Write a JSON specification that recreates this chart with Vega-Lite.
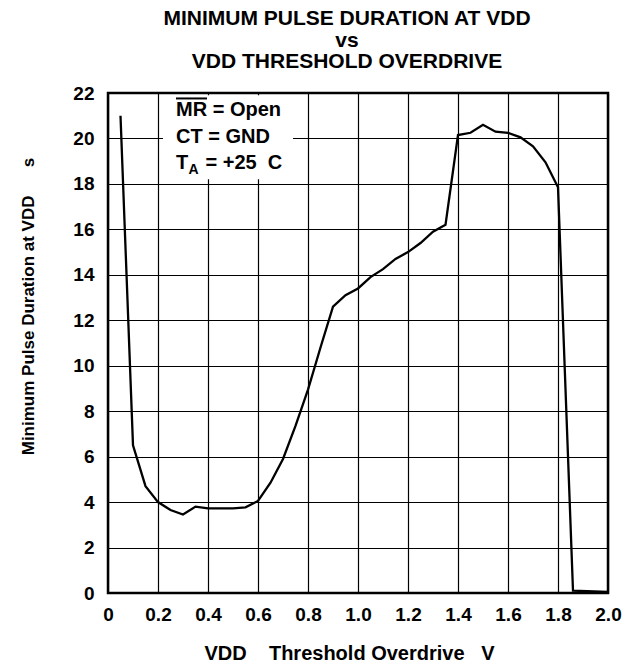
{
  "$schema": "https://vega.github.io/schema/vega-lite/v6.json",
  "width": 500,
  "height": 500,
  "autosize": {"type": "none"},
  "padding": {"left": 108, "top": 93, "right": 31, "bottom": 78},
  "background": "white",
  "title": {
    "text": ["MINIMUM PULSE DURATION AT VDD", "vs", "VDD THRESHOLD OVERDRIVE"],
    "anchor": "middle",
    "font": "Liberation Sans",
    "fontSize": 21,
    "fontWeight": "bold",
    "lineHeight": 21.5,
    "color": "black",
    "offset": 12,
    "dx": -11
  },
  "config": {
    "view": {"stroke": "black", "strokeWidth": 2.5},
    "axis": {
      "grid": true,
      "gridColor": "black",
      "gridOpacity": 1,
      "gridWidth": 1.2,
      "ticks": false,
      "tickSize": 0,
      "domain": false,
      "labelFont": "Liberation Sans",
      "labelFontSize": 19,
      "labelFontWeight": "bold",
      "labelColor": "black",
      "labelFlush": false,
      "labelOverlap": false,
      "labelBound": false,
      "titleFont": "Liberation Sans",
      "titleFontWeight": "bold",
      "titleColor": "black"
    }
  },
  "datasets": {
    "curve": [
      {"x": 0.05, "y": 21.0},
      {"x": 0.1, "y": 6.5},
      {"x": 0.15, "y": 4.7},
      {"x": 0.2, "y": 4.0},
      {"x": 0.25, "y": 3.65},
      {"x": 0.3, "y": 3.45},
      {"x": 0.35, "y": 3.8},
      {"x": 0.4, "y": 3.72},
      {"x": 0.45, "y": 3.72},
      {"x": 0.5, "y": 3.72},
      {"x": 0.55, "y": 3.77},
      {"x": 0.6, "y": 4.05},
      {"x": 0.65, "y": 4.85},
      {"x": 0.7, "y": 5.9},
      {"x": 0.75, "y": 7.35},
      {"x": 0.8, "y": 8.95},
      {"x": 0.85, "y": 10.8},
      {"x": 0.9, "y": 12.6},
      {"x": 0.95, "y": 13.1},
      {"x": 1.0, "y": 13.4},
      {"x": 1.05, "y": 13.9},
      {"x": 1.1, "y": 14.25},
      {"x": 1.15, "y": 14.7},
      {"x": 1.2, "y": 15.0},
      {"x": 1.25, "y": 15.4},
      {"x": 1.3, "y": 15.9},
      {"x": 1.35, "y": 16.2},
      {"x": 1.4, "y": 20.15},
      {"x": 1.45, "y": 20.25},
      {"x": 1.5, "y": 20.6},
      {"x": 1.55, "y": 20.3},
      {"x": 1.6, "y": 20.25},
      {"x": 1.65, "y": 20.05},
      {"x": 1.7, "y": 19.65},
      {"x": 1.75, "y": 18.95},
      {"x": 1.8, "y": 17.85},
      {"x": 1.86, "y": 0.1},
      {"x": 2.0, "y": 0.05}
    ],
    "box": [{"x": 0.22, "x2": 0.74, "y": 18.2, "y2": 21.9}],
    "overline": [{"x": 0.272, "x2": 0.396, "y": 21.76}],
    "notes": [
      {"x": 0.272, "y": 21.0, "label": "MR = Open"},
      {"x": 0.272, "y": 19.81, "label": "CT = GND"},
      {"x": 0.272, "y": 18.65, "label": "T"},
      {"x": 0.39, "y": 18.65, "label": "= +25\u00a0\u00a0C"}
    ],
    "subs": [
      {"x": 0.322, "y": 18.43, "label": "A"}
    ]
  },
  "encoding": {
    "x": {
      "field": "x",
      "type": "quantitative",
      "scale": {"domain": [0, 2], "nice": false, "zero": false},
      "axis": {
        "values": [0, 0.2, 0.4, 0.6, 0.8, 1.0, 1.2, 1.4, 1.6, 1.8, 2.0],
        "labelExpr": "datum.value == 0 ? '0' : format(datum.value, '.1f')",
        "labelPadding": 12,
        "title": "VDD\u00a0\u00a0\u00a0\u00a0Threshold Overdrive\u00a0\u00a0\u00a0V",
        "titleFontSize": 20,
        "titleX": 241,
        "titleY": 66,
        "titleAlign": "center",
        "titleBaseline": "alphabetic"
      }
    },
    "y": {
      "field": "y",
      "type": "quantitative",
      "scale": {"domain": [0, 22], "nice": false},
      "axis": {
        "values": [0, 2, 4, 6, 8, 10, 12, 14, 16, 18, 20, 22],
        "labelPadding": 14,
        "title": "Minimum Pulse Duration at VDD\u00a0\u00a0\u00a0\u00a0\u00a0\u00a0s",
        "titleFontSize": 17,
        "titleAngle": 270,
        "titleX": -80,
        "titleY": 213,
        "titleAlign": "center",
        "titleBaseline": "middle"
      }
    }
  },
  "layer": [
    {
      "data": {"name": "box"},
      "mark": {"type": "rect", "fill": "white", "stroke": null},
      "encoding": {"x2": {"field": "x2"}, "y2": {"field": "y2"}}
    },
    {
      "data": {"name": "curve"},
      "mark": {"type": "line", "color": "black", "strokeWidth": 2.3, "strokeJoin": "miter"}
    },
    {
      "data": {"name": "overline"},
      "mark": {"type": "rule", "color": "black", "strokeWidth": 2},
      "encoding": {"x2": {"field": "x2"}}
    },
    {
      "data": {"name": "notes"},
      "mark": {"type": "text", "align": "left", "baseline": "alphabetic", "font": "Liberation Sans", "fontSize": 20, "fontWeight": "bold", "color": "black"},
      "encoding": {"text": {"field": "label"}}
    },
    {
      "data": {"name": "subs"},
      "mark": {"type": "text", "align": "left", "baseline": "alphabetic", "font": "Liberation Sans", "fontSize": 14, "fontWeight": "bold", "color": "black"},
      "encoding": {"text": {"field": "label"}}
    }
  ]
}
